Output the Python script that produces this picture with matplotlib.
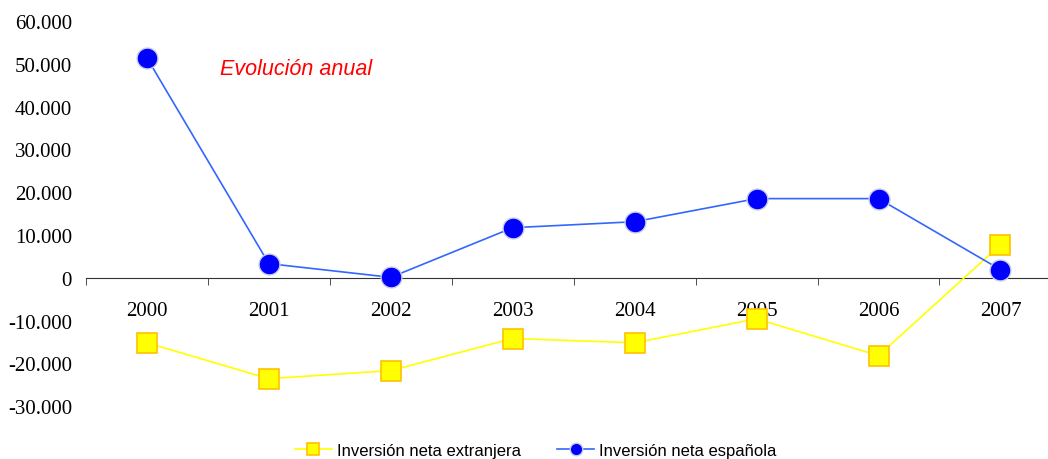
import matplotlib.pyplot as plt
from matplotlib.ticker import FuncFormatter, FixedLocator

years = ['2000', '2001', '2002', '2003', '2004', '2005', '2006', '2007']
inv_extranjera = [-15200, -23600, -21700, -14200, -15200, -9600, -18200, 7700]
inv_espanola = [51400, 3300, 100, 11700, 13100, 18500, 18500, 1900]

fig = plt.figure(figsize=(10.48, 4.6), dpi=100)
ax = fig.add_axes([0.082, 0.115, 0.918, 0.837])

x = range(len(years))
ax.plot(x, inv_extranjera, color='#FFFF00', lw=1.2, marker='s', markersize=14,
        markerfacecolor='#FFFF00', markeredgecolor='#FFC000', markeredgewidth=1.2,
        label='Inversión neta extranjera', zorder=3)
ax.plot(x, inv_espanola, color='#3366FF', lw=1.2, marker='o', markersize=15,
        markerfacecolor='#0000FF', markeredgecolor='#C8CCE8', markeredgewidth=1.0,
        label='Inversión neta española', zorder=4)

ax.set_xlim(-0.5, 7.39)
ax.set_ylim(-30000, 60000)

# only the zero line is drawn, with ticks between categories
for s in ['top', 'right', 'left']:
    ax.spines[s].set_visible(False)
ax.spines['bottom'].set_position(('data', 0))
ax.spines['bottom'].set_color('#333333')

ax.set_xticks(list(x))
ax.set_xticklabels(years, family='Liberation Serif', fontsize=15)
ax.tick_params(axis='x', which='major', length=0, pad=17)
ax.xaxis.set_minor_locator(FixedLocator([i - 0.5 for i in range(len(years) + 1)]))
ax.tick_params(axis='x', which='minor', length=5, color='#333333', direction='out')

ax.set_yticks(range(-30000, 60001, 10000))
ax.yaxis.set_major_formatter(FuncFormatter(lambda v, p: f'{int(v):,}'.replace(',', '.')))
ax.tick_params(axis='y', length=0, pad=10)
for lab in ax.get_yticklabels():
    lab.set_family('Liberation Serif')
    lab.set_fontsize(15)

ax.text(0.6, 49000, 'Evolución anual', color='#FF0000', style='italic',
        family='Liberation Sans', fontsize=15.5, va='center', ha='left')

fig.legend(loc='lower center', bbox_to_anchor=(0.511, -0.03), ncol=2, frameon=False,
           prop={'family': 'Liberation Sans', 'size': 12}, markerscale=0.6,
           handlelength=2.2, columnspacing=2.2, handletextpad=0.3)

plt.savefig('out.png', dpi=100)
